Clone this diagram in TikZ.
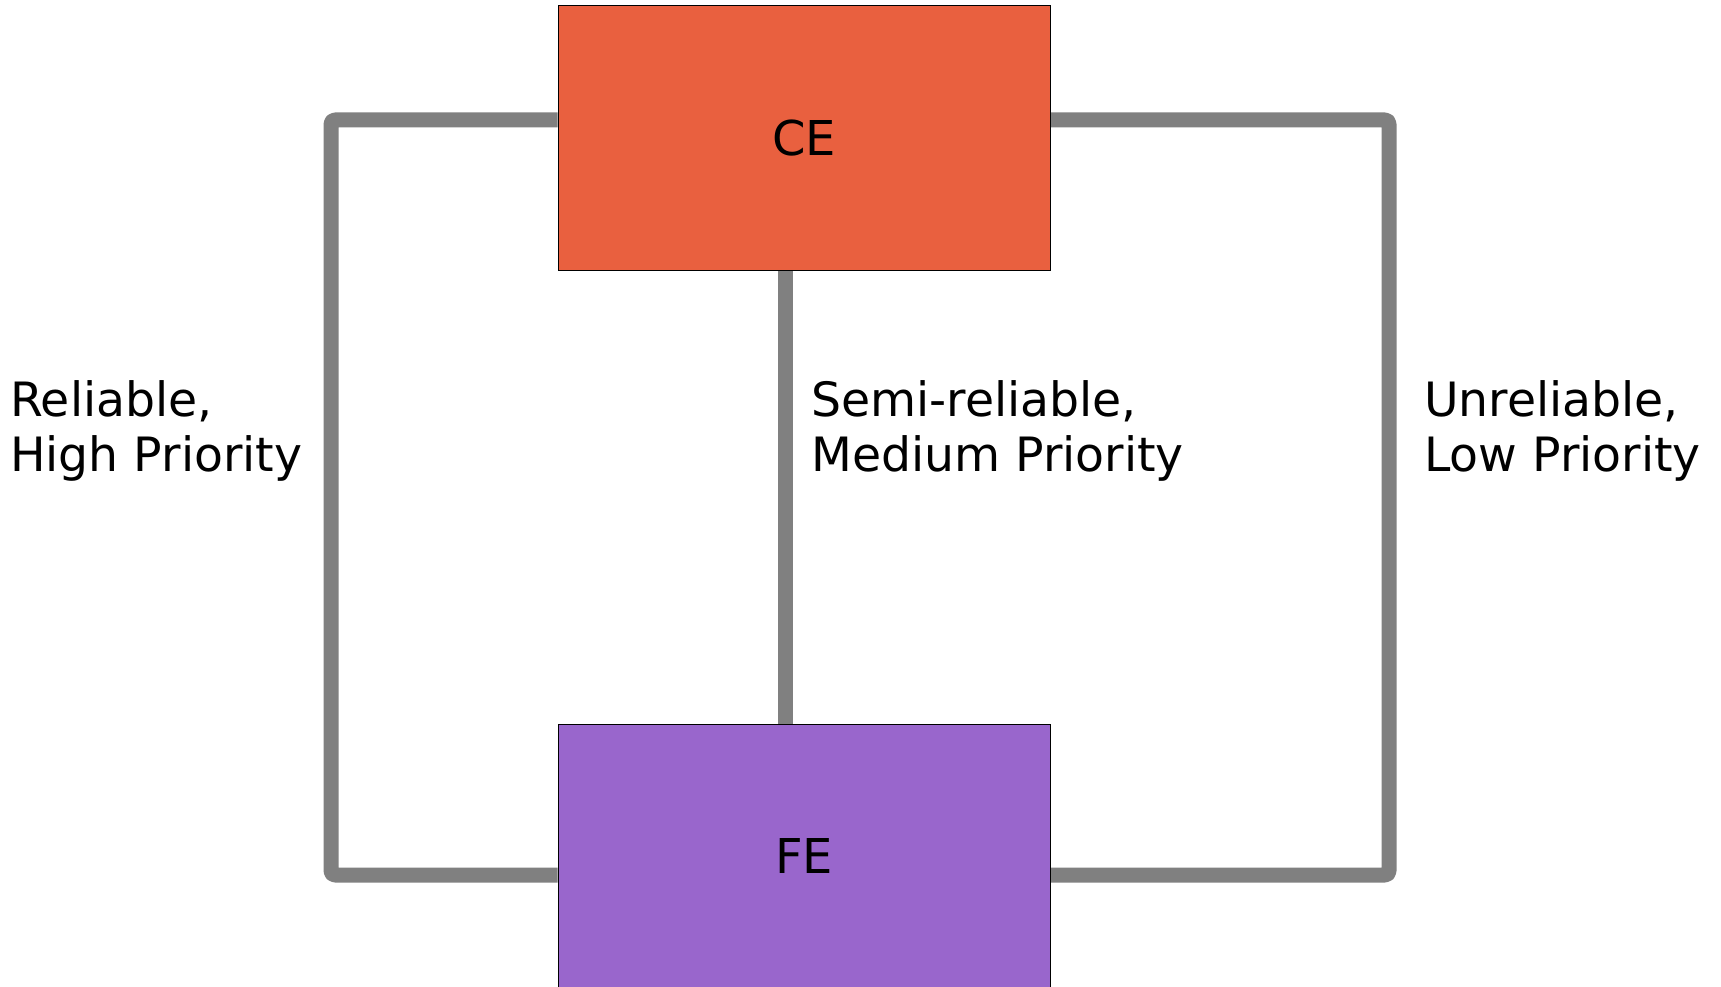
\documentclass[tikz,border=0pt]{standalone}
\usepackage{fontspec}
\setmainfont{DejaVu Sans}
\usetikzlibrary{backgrounds}
\definecolor{ceorange}{RGB}{233,96,63}
\definecolor{fepurple}{RGB}{153,102,204}
\definecolor{linkgray}{RGB}{128,128,128}
\begin{document}
\begin{tikzpicture}[x=1pt,y=-1pt,
  box/.style={draw=black,line width=1pt,minimum width=492pt,minimum height=264pt,inner sep=0pt,font=\fontsize{48}{56}\selectfont},
  link/.style={draw=linkgray,line width=15pt,line join=round,rounded corners=4pt},
  lbl/.style={anchor=base west,align=left,inner sep=0pt,font=\fontsize{47.3}{55}\selectfont}]
\useasboundingbox (0,0) rectangle (1721,987);
\clip (0,0) rectangle (1721,987);
\node[box,fill=ceorange] (CE) at (804,138) {CE};
\node[box,fill=fepurple] (FE) at (804,856) {FE};
\coordinate (L) at (331,0);
\coordinate (R) at (1389,0);
\coordinate (M) at (785,0);
\coordinate (T) at (0,120);
\coordinate (B) at (0,875);
\begin{scope}[on background layer]
\draw[link] (CE.west |- T) -- (L |- T) -- (L |- B) -- (FE.west |- B);
\draw[link] (CE.east |- T) -- (R |- T) -- (R |- B) -- (FE.east |- B);
\draw[link] (CE.south -| M) -- (FE.north -| M);
\end{scope}
\node[lbl] (l1) at (10,471) {Reliable,\\High Priority};
\node[lbl] (l2) at (811,471) {Semi-reliable,\\Medium Priority};
\node[lbl] (l3) at (1424,471) {Unreliable,\\Low Priority};
\end{tikzpicture}
\end{document}
